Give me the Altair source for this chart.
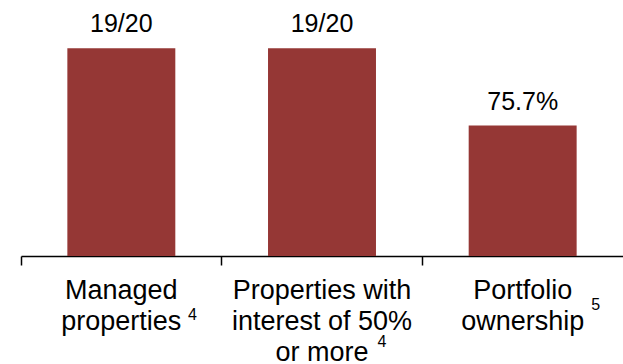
import altair as alt
import pandas as pd

categories = ["Managed properties", "Properties with interest", "Portfolio ownership"]
label_lines = [["Managed", "properties"], ["Properties with", "interest of 50%", "or more"], ["Portfolio", "ownership"]]
values = [95.0, 95.0, 75.7]
value_labels = ["19/20", "19/20", "75.7%"]
notes = ["4", "4", "5"]

df = pd.DataFrame({
    "cat": categories,
    "value": values,
    "vlabel": value_labels,
    "lines": label_lines,
    "note": notes,
})

FONT = "Liberation Sans"
COLOR = "#953735"

x = alt.X("cat:N", sort=categories, title=None,
          scale=alt.Scale(paddingInner=0, paddingOuter=0),
          axis=alt.Axis(labels=False, bandPosition=0, tickSize=9, tickColor="black",
                        tickWidth=1.5, domainColor="black", domainWidth=1.5, grid=False))
y = alt.Y("value:Q", title=None,
          scale=alt.Scale(domain=[43.2, 107.0], zero=False, clamp=True),
          axis=None)

base = alt.Chart(df)

bars = base.mark_bar(color=COLOR, width={"band": 0.538}).encode(x=x, y=y)

vals = base.mark_text(font=FONT, fontSize=25, baseline="alphabetic", dy=-16, color="black").encode(
    x=alt.X("cat:N", sort=categories), y=y, text="vlabel:N")

cat_labels = base.mark_text(font=FONT, fontSize=27, baseline="alphabetic", dy=43,
                            lineHeight=31, color="black").encode(
    x=alt.X("cat:N", sort=categories), y=alt.value(256), text="lines")

note_offsets = [(71, 64), (60, 91), (73, 54)]
note_layers = []
for cat, (dx, dy) in zip(categories, note_offsets):
    note_layers.append(
        base.transform_filter(alt.datum.cat == cat).mark_text(
            font=FONT, fontSize=16, baseline="alphabetic", dx=dx, dy=dy, color="black"
        ).encode(x=alt.X("cat:N", sort=categories), y=alt.value(256), text="note:N")
    )

chart = alt.layer(bars, vals, cat_labels, *note_layers).properties(
    width=602, height=256,
    padding={"left": 21, "top": 0, "right": 0, "bottom": 108},
    autosize=alt.AutoSizeParams(type="none"),
).configure_view(stroke=None)

chart.save("out.html", embed_options={"renderer": "svg", "actions": False})
